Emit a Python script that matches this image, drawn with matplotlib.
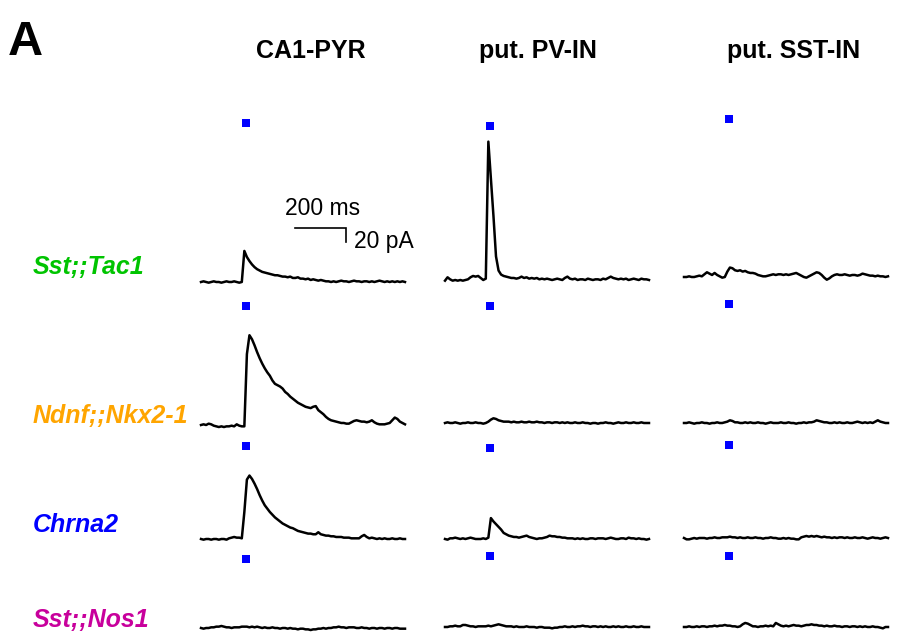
import numpy as np
import matplotlib
matplotlib.use('Agg')
import matplotlib.pyplot as plt

plt.rcParams['font.family'] = ['Liberation Sans', 'DejaVu Sans']

# sampled every 10 ms, current in pA relative to baseline
sst_tac1_pyr = [0, 1, 0, -1, 0, 1, 0, 0, -1, 0,
                1, 0, 0, 1, 0, -1, 0, 46, 37, 31,
                26, 22, 19, 17, 15, 14, 13, 12, 11, 10,
                10, 9, 8, 8, 7, 8, 6, 6, 7, 5,
                5, 4, 5, 3, 4, 3, 2, 3, 2, 1,
                1, 0, 1, 0, 1, 2, 1, 1, 0, 1,
                2, 1, 1, 0, 1, 1, 0, 1, 0, 1,
                2, 1, 0, 1, 0, 1, 0, 1, 0, 1,
                0]
sst_tac1_pv = [-1, 4, 1, -1, 0, -1, 0, -1, 0, 1,
               4, 6, 5, 6, 3, 0, 2, 205, 150, 95,
               35, 14, 8, 6, 5, 4, 3, 3, 2, 3,
               5, 3, 4, 2, 3, 2, 3, 1, 2, 1,
               2, 1, 0, 1, 2, 1, 0, 3, 5, 2,
               1, 2, 0, 1, 1, 0, 2, 1, 0, 1,
               1, 0, 2, 1, 3, 5, 3, 2, 1, 2,
               1, 2, 0, 1, 2, 1, 0, 2, 1, 1,
               0]
sst_tac1_sst = [0, 0, 1, 0, 0, 1, 2, 1, 4, 7,
                5, 3, 6, 3, 1, -1, 0, 8, 14, 13,
                10, 9, 10, 8, 9, 7, 6, 6, 5, 3,
                2, 1, 1, 2, 3, 4, 3, 4, 4, 3,
                4, 3, 4, 5, 6, 4, 2, 0, -1, 1,
                3, 5, 7, 6, 3, -1, -4, -2, 1, 3,
                4, 3, 3, 4, 3, 2, 3, 3, 2, 3,
                5, 4, 3, 2, 2, 1, 2, 1, 1, 0,
                1]
ndnf_pyr = [0, 1, 0, 2, 1, -1, -2, -3, -2, -3,
            -2, -2, -1, -2, 1, -1, -2, -2, 105, 133,
            127, 118, 108, 99, 91, 84, 78, 73, 66, 61,
            59, 57, 54, 49, 46, 42, 39, 36, 33, 31,
            29, 27, 26, 25, 27, 28, 22, 19, 16, 12,
            9, 7, 6, 5, 4, 3, 3, 2, 2, 4,
            6, 7, 6, 5, 5, 4, 5, 7, 4, 2,
            1, 1, 1, 2, 3, 7, 11, 9, 5, 3,
            1]
ndnf_pv = [0, 1, 0, 0, 1, 0, -1, 0, 0, 1,
           0, 0, 1, 0, 0, -1, 0, 2, 5, 7,
           6, 4, 3, 2, 2, 2, 1, 2, 1, 1,
           2, 1, 1, 2, 1, 1, 2, 1, 1, 0,
           1, 1, 0, 1, 1, 0, 1, 0, 1, 0,
           0, 1, 0, 0, 1, 0, 0, -1, 0, 0,
           -1, 0, 0, 1, 0, 0, -1, 0, 1, 0,
           0, 1, 0, 0, 1, 0, 0, 1, 0, 0,
           0]
ndnf_sst = [0, 0, 1, 0, -1, 0, 0, 1, 0, 0,
            -1, 0, 0, 1, 0, 0, 1, 2, 4, 3,
            1, 1, 0, 0, 1, 0, 1, 0, 0, 1,
            0, 0, -1, 0, 1, 0, 0, 0, 1, 0,
            0, 1, 0, 0, -1, 0, 0, 1, 0, 1,
            1, 2, 4, 3, 2, 1, 1, 0, 0, 1,
            0, 1, 0, 0, 1, 0, 0, 1, 2, 1,
            0, 1, 0, 1, 0, 2, 4, 2, 1, 0,
            0]
chrna2_pyr = [0, -1, 0, 0, -1, 0, 0, -1, 0, 0,
              -1, 1, 2, 3, 2, 2, 1, 40, 88, 94,
              89, 82, 74, 65, 57, 50, 45, 40, 36, 32,
              29, 26, 23, 21, 19, 17, 16, 14, 12, 11,
              10, 9, 8, 8, 7, 7, 10, 7, 6, 5,
              5, 4, 4, 3, 3, 3, 2, 2, 2, 1,
              1, 1, 1, 4, 6, 3, 1, 2, 1, 0,
              1, 0, 1, 0, 0, 1, 0, 0, 1, 0,
              0]
chrna2_pv = [0, -1, 1, 1, 2, 1, 0, 1, 0, 1,
             2, 1, 0, 0, 0, 1, 0, 2, 31, 26,
             22, 18, 14, 9, 7, 5, 4, 3, 3, 2,
             3, 4, 5, 3, 2, 1, 0, 1, 1, 2,
             3, 5, 4, 4, 3, 3, 2, 2, 1, 1,
             1, 0, 1, 0, 1, 0, 0, 1, 1, 0,
             1, 1, 1, 0, 1, 2, 1, 0, 0, 1,
             1, 0, 2, 1, 1, 0, 1, 0, 0, -1,
             0]
chrna2_sst = [0, -2, -2, -1, 0, -1, 0, 0, 0, -1,
              0, 0, 1, 0, 0, 1, 1, 1, 2, 1,
              1, 0, 1, 0, 0, 1, 0, 0, 1, 0,
              0, -1, 0, 0, 1, 0, 0, -1, -1, 0,
              -1, 0, -1, -1, -2, -2, 1, 2, 3, 2,
              3, 2, 3, 2, 1, 2, 1, 1, 0, 1,
              0, 1, 1, 0, 1, 0, 0, 1, 0, 0,
              1, 0, -1, 0, 1, 0, 0, -1, 0, 1,
              0]
nos1_pyr = [0, -1, 0, 0, 1, 1, 2, 2, 3, 2,
            1, 1, 0, 1, 1, 1, 2, 2, 2, 1,
            2, 1, 2, 1, 0, 1, 0, 0, 1, 0,
            0, -1, 0, 0, -1, 0, -1, -1, -2, -1,
            -1, -2, -2, -3, -2, -2, -1, -1, 0, -1,
            0, 0, 1, 1, 2, 1, 1, 0, 1, 1,
            1, 0, 0, 1, 0, 0, -1, 0, 0, -1,
            0, 0, -1, 0, 0, -1, 0, 0, -1, -1,
            -1]
nos1_pv = [0, 0, 1, 1, 2, 1, 1, 3, 3, 2,
           1, 1, 0, 1, 1, 1, 1, 2, 1, 2,
           3, 4, 3, 2, 1, 1, 1, 0, 1, 0,
           0, 0, 1, 0, 0, 0, -1, 0, 0, -1,
           -1, -1, -2, -1, -1, 0, 0, 1, 0, 0,
           1, 0, 1, 1, 2, 1, 1, 0, 1, 1,
           0, 1, 0, 1, 0, 0, 1, 0, 1, 0,
           0, 1, 0, 0, 1, 0, 0, 1, 0, 0,
           0]
nos1_sst = [0, 0, 1, 0, 0, 1, 0, 1, 1, 0,
            1, 1, 2, 1, 2, 2, 3, 2, 2, 1,
            1, 0, 1, 4, 6, 5, 3, 1, 1, 0,
            1, 1, 2, 1, 2, 1, 6, 4, 2, 1,
            2, 1, 2, 3, 2, 2, 1, 2, 3, 3,
            4, 3, 3, 2, 2, 1, 2, 1, 1, 2,
            1, 1, 0, 1, 1, 0, 1, 1, 0, 1,
            0, 1, 0, 0, 1, 0, 0, -1, -2, 0,
            0]

traces = [[sst_tac1_pyr, sst_tac1_pv, sst_tac1_sst],
          [ndnf_pyr, ndnf_pv, ndnf_sst],
          [chrna2_pyr, chrna2_pv, chrna2_sst],
          [nos1_pyr, nos1_pv, nos1_sst]]

col_titles = ['CA1-PYR', 'put. PV-IN', 'put. SST-IN']
row_labels = ['Sst;;Tac1', 'Ndnf;;Nkx2-1', 'Chrna2', 'Sst;;Nos1']
row_colors = ['#00c400', '#ffa500', '#0000ff', '#c8009c']

stim_ms = 175
# height of the light marker above baseline, pA
stim_level = [[235, 228, 234],
              [177, 174, 177],
              [138, 135, 138],
              [102, 105, 105]]

scale_ms = 200
scale_pa = 20

# layout in figure pixels
W, H = 911, 638
MS_PER_PX = 200 / 51
PA_PER_PX = 20 / 13.5
col_x = [201, 445, 684]
base_y = [[282, 280, 277],
          [425, 423, 423],
          [539, 539, 538],
          [628, 627, 627]]
label_y = [274, 423, 532, 627]
title_x = [311, 538, 794]
YMIN, YMAX = -30, 250
T_END = 800


def fx(px):
    return px / W


def fy(py):
    return 1 - py / H


fig = plt.figure(figsize=(W / 100, H / 100), dpi=100)

for r in range(4):
    for c in range(3):
        y = np.array(traces[r][c], dtype=float)
        t = np.arange(len(y)) * 10
        bottom = base_y[r][c] - YMIN / PA_PER_PX
        height = (YMAX - YMIN) / PA_PER_PX
        width = T_END / MS_PER_PX
        ax = fig.add_axes([fx(col_x[c]), fy(bottom), width / W, height / H])
        ax.set_xlim(0, T_END)
        ax.set_ylim(YMIN, YMAX)
        ax.axis('off')
        ax.patch.set_visible(False)
        ax.plot(t, y, color='black', lw=1.8, solid_joinstyle='round', clip_on=False)
        ax.plot([stim_ms], [stim_level[r][c]], 's', color='#0000ff',
                ms=5.8, mew=0, clip_on=False)

        if r == 0 and c == 0:
            # scale bar
            x0 = (295 - col_x[0]) * MS_PER_PX
            y0 = (base_y[0][0] - 228) * PA_PER_PX
            ax.plot([x0, x0 + scale_ms, x0 + scale_ms],
                    [y0, y0, y0 - scale_pa],
                    color='black', lw=1.2, clip_on=False, solid_joinstyle='miter')

fig.text(fx(323), fy(215), f'{scale_ms} ms', fontsize=16.5, ha='center', va='baseline')
fig.text(fx(354), fy(248), f'{scale_pa} pA', fontsize=16.5, ha='left', va='baseline')

fig.text(fx(8), fy(55), 'A', fontsize=35, fontweight='bold', ha='left', va='baseline')

for c, title in enumerate(col_titles):
    fig.text(fx(title_x[c]), fy(58), title, fontsize=18, fontweight='bold',
             ha='center', va='baseline')

for r, lab in enumerate(row_labels):
    fig.text(fx(33), fy(label_y[r]), lab, fontsize=18, fontweight='bold',
             fontstyle='italic', color=row_colors[r], ha='left', va='baseline')

fig.savefig('out.png', dpi=100)
